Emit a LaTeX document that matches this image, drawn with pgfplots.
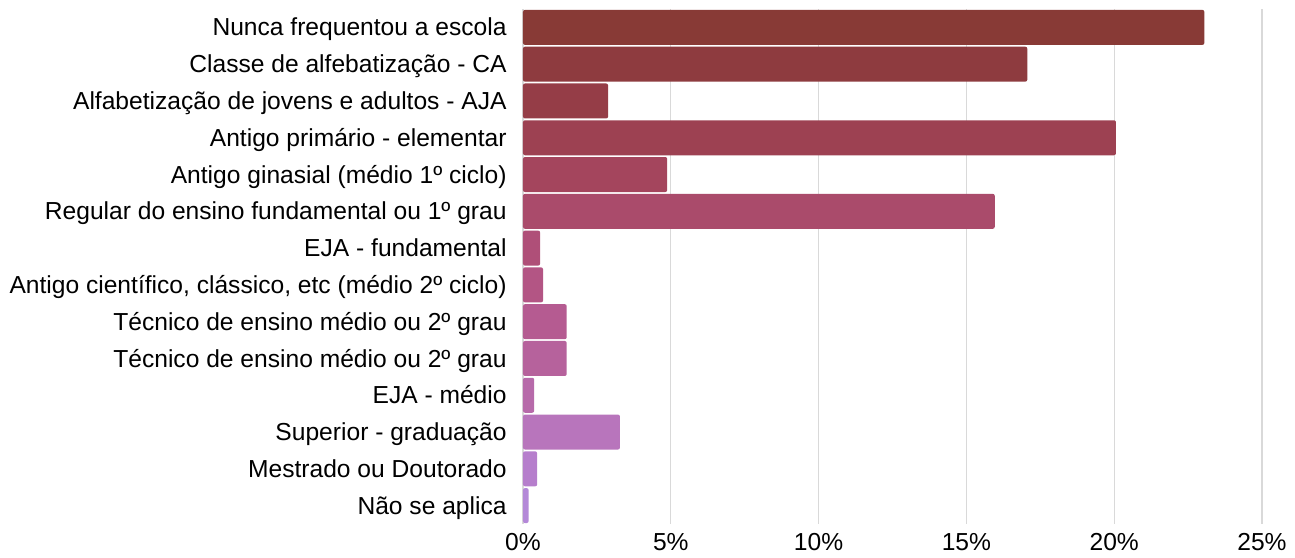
\documentclass[border=0pt]{standalone}
\usepackage{pgfplots}
\pgfplotsset{compat=1.18}
\usepackage{fontspec}
\setmainfont{Liberation Sans}
\definecolor{c1}{HTML}{883A36}
\definecolor{c2}{HTML}{8E3B3F}
\definecolor{c3}{HTML}{953D47}
\definecolor{c4}{HTML}{9D4152}
\definecolor{c5}{HTML}{A4455D}
\definecolor{c6}{HTML}{AA4B6B}
\definecolor{c7}{HTML}{AF4F78}
\definecolor{c8}{HTML}{B35584}
\definecolor{c9}{HTML}{B55B91}
\definecolor{c10}{HTML}{B6629C}
\definecolor{c11}{HTML}{B76AAA}
\definecolor{c12}{HTML}{B875BC}
\definecolor{c13}{HTML}{B67ECC}
\definecolor{c14}{HTML}{B488D8}
\definecolor{gridgray}{HTML}{D9D9D9}
\begin{document}
\fontsize{12.3}{14}\selectfont
\begin{tikzpicture}
\begin{axis}[
  at={(0,0)}, anchor=south west,
  scale only axis, width=369.5pt, height=257.5pt,
  xbar, bar width=17.5pt, bar shift=0pt,
  xmin=0, xmax=25, ymin=-0.5, ymax=13.5, y dir=reverse,
  xtick={0,5,10,15,20,25},
  xticklabels={0\%,5\%,10\%,15\%,20\%,25\%},
  xmajorgrids, grid style={draw=gridgray, line width=0.6pt},
  axis line style={draw=none}, major tick length=0pt,
  ytick={0,1,2,3,4,5,6,7,8,9,10,11,12,13},
  yticklabels={
    Nunca frequentou a escola,
    Classe de alfebatização - CA,
    Alfabetização de jovens e adultos - AJA,
    Antigo primário - elementar,
    Antigo ginasial (médio 1º ciclo),
    Regular do ensino fundamental ou 1º grau,
    EJA - fundamental,
    {Antigo científico, clássico, etc (médio 2º ciclo)},
    Técnico de ensino médio ou 2º grau,
    Técnico de ensino médio ou 2º grau,
    EJA - médio,
    Superior - graduação,
    Mestrado ou Doutorado,
    Não se aplica},
  yticklabel style={inner sep=0pt, anchor=base east, xshift=-8pt, yshift=-4.3pt, font=\fontsize{12.3}{14}\selectfont},
  xticklabel style={inner sep=0pt, yshift=-4.5pt, font=\fontsize{12.3}{14}\selectfont},
  every axis plot/.append style={draw=none, rounded corners=1pt},
]
\addplot[fill=c1] coordinates {(23.05,0)};
\addplot[fill=c2] coordinates {(17.06,1)};
\addplot[fill=c3] coordinates {(2.88,2)};
\addplot[fill=c4] coordinates {(20.06,3)};
\addplot[fill=c5] coordinates {(4.88,4)};
\addplot[fill=c6] coordinates {(15.96,5)};
\addplot[fill=c7] coordinates {(0.58,6)};
\addplot[fill=c8] coordinates {(0.68,7)};
\addplot[fill=c9] coordinates {(1.48,8)};
\addplot[fill=c10] coordinates {(1.48,9)};
\addplot[fill=c11] coordinates {(0.38,10)};
\addplot[fill=c12] coordinates {(3.28,11)};
\addplot[fill=c13] coordinates {(0.48,12)};
\addplot[fill=c14] coordinates {(0.19,13)};
\end{axis}
\pgfresetboundingbox
\useasboundingbox (-261.5pt,-16.5pt) rectangle (386pt,262pt);
\end{tikzpicture}
\end{document}
